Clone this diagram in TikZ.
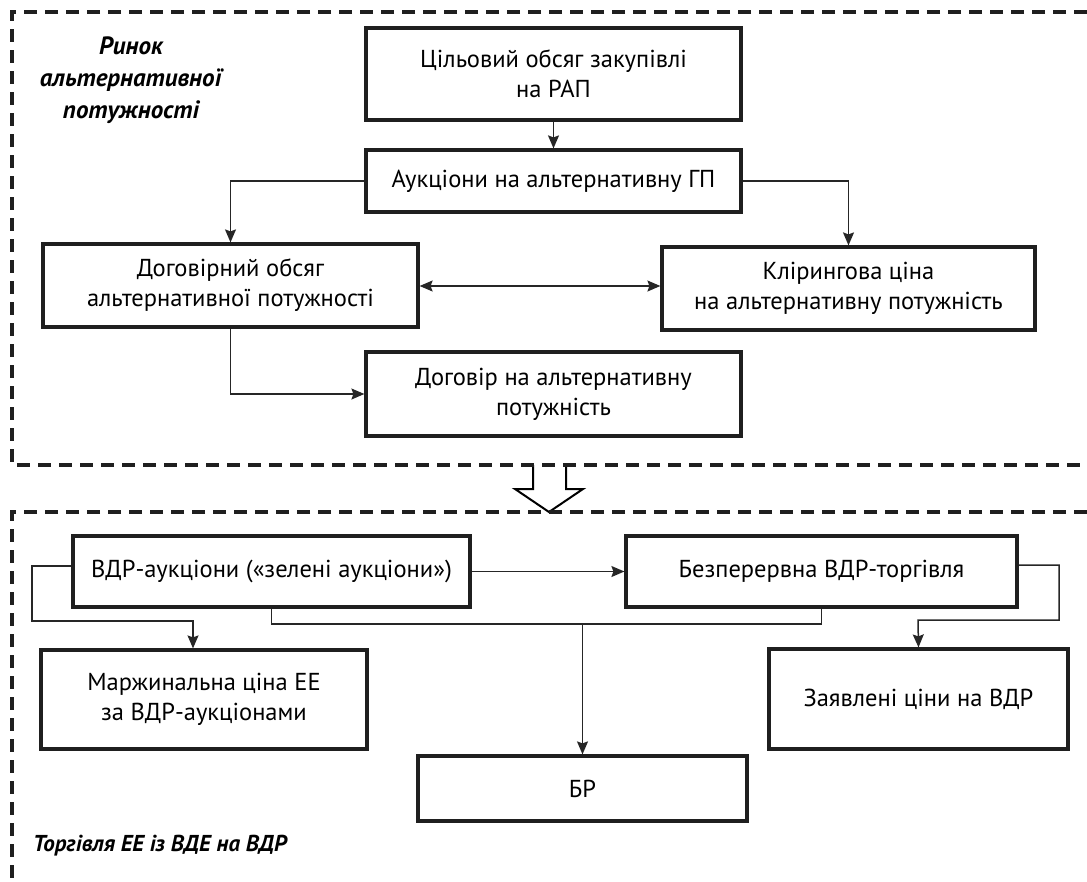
\documentclass[tikz,border=0pt]{standalone}
\usepackage{fontspec}
\setmainfont{PT Sans}
\usetikzlibrary{arrows.meta,positioning}
\begin{document}
\begin{tikzpicture}[x=1pt,y=-1pt,
  box/.style={draw=black!88,line width=3.2pt,fill=white,align=center,inner sep=0pt,font=\fontsize{24.5}{30}\selectfont},
  conn/.style={draw=black!85,line width=1.5pt},
  arr/.style={conn,-{Stealth[length=13pt,width=11pt,inset=2pt]}},
  darr/.style={conn,{Stealth[length=13pt,width=11pt,inset=2pt]}-{Stealth[length=13pt,width=11pt,inset=2pt]}},
  frame/.style={draw=black!88,line width=3.2pt,dash pattern=on 13pt off 8pt},
  lab/.style={align=center,inner sep=0pt,font=\fontsize{25}{32}\selectfont\bfseries\itshape}]
\useasboundingbox (0,0) rectangle (1087,881);
% hollow arrow between the regions
\fill[white] (533,465) -- (533,489) -- (515,489) -- (549,512) -- (583,489) -- (566,489) -- (566,465) -- cycle;
\draw[line width=2pt,line join=miter] (533,465) -- (533,489) -- (515,489) -- (549,512) -- (583,489) -- (566,489) -- (566,465);
% dashed frames
\draw[frame] (1087,12) -- (12,12) -- (12,465) -- (1087,465);
\draw[frame] (1087,512) -- (12,512) -- (12,881);
% labels
\node[lab] (l1) at (131,80) {Ринок\\альтернативної\\потужності};
\node[lab,anchor=west,font=\fontsize{23}{30}\selectfont\bfseries\itshape] (l2) at (33,846) {Торгівля ЕЕ із ВДЕ на ВДР};
% boxes
\node[box,minimum width=375pt,minimum height=92pt] (b1) at (553.5,74) {Цільовий обсяг закупівлі\\на РАП};
\node[box,minimum width=375pt,minimum height=62pt] (b2) at (553.5,181) {Аукціони на альтернативну ГП};
\node[box,minimum width=375pt,minimum height=83pt] (b3) at (230.5,285.5) {Договірний обсяг\\альтернативної потужності};
\node[box,minimum width=373pt,minimum height=83pt] (b4) at (848.5,288.5) {Клірингова ціна\\на альтернативну потужність};
\node[box,minimum width=375pt,minimum height=84pt] (b5) at (553.5,394) {Договір на альтернативну\\потужність};
\node[box,minimum width=397pt,minimum height=71pt] (b6) at (271.5,571.5) {ВДР-аукціони («зелені аукціони»)};
\node[box,minimum width=391pt,minimum height=71pt] (b7) at (821.5,571.5) {Безперервна ВДР-торгівля};
\node[box,minimum width=326pt,minimum height=99pt] (b8) at (204,699.5) {Маржинальна ціна ЕЕ\\за ВДР-аукціонами};
\node[box,minimum width=299pt,minimum height=100pt] (b9) at (918.5,699) {Заявлені ціни на ВДР};
\node[box,minimum width=329pt,minimum height=65pt] (b10) at (582.5,788.5) {БР};
% connectors top
\draw[arr] (b1) -- (b2);
\draw[arr] (b2.west) -| (b3.north);
\draw[arr] (b2.east) -| (b4.north);
\draw[darr] (b3.east |- 0,286) -- (b4.west |- 0,286);
\draw[arr] (b3.south) |- (b5.west);
% connectors bottom
\draw[arr] (b6) -- (b7);
\coordinate (c8) at (193,621);
\draw[arr] (b6.west |- 0,566) -- (32,566) -- (32,621) -- (c8) -- (c8 |- b8.north);
\coordinate (c9) at (918,620);
\draw[arr] (b7.east |- 0,565) -- (1059,565) -- (1059,620) -- (c9) -- (b9.north);
\coordinate (j) at (582.5,624);
\draw[conn] (b6.south) -- (271.5,624) -- (821.5,624) -- (b7.south);
\draw[arr] (j) -- (b10.north);
\end{tikzpicture}
\end{document}
